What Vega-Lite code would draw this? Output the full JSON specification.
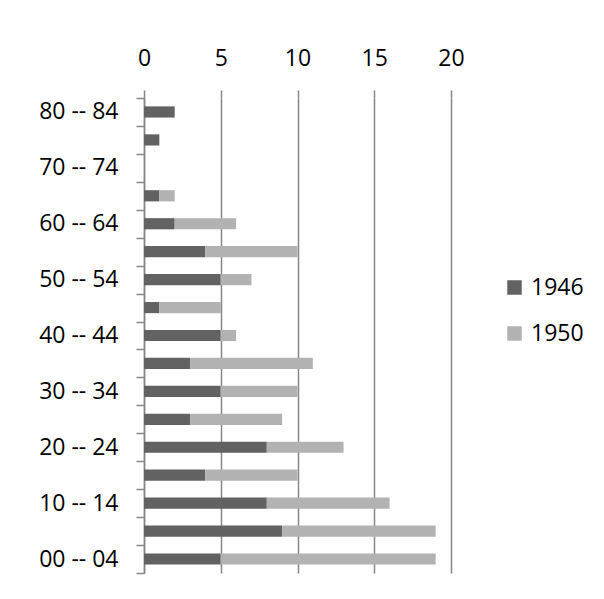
{
  "$schema": "https://vega.github.io/schema/vega-lite/v6.json",
  "width": 307,
  "height": 475,
  "autosize": {"type": "none"},
  "padding": {"left": 144, "top": 98, "right": 153, "bottom": 26},
  "background": "white",
  "config": {
    "view": {"stroke": null},
    "font": "Open Sans"
  },
  "data": {
    "values": [
      {"age": "00 -- 04", "year": "1946", "count": 5},
      {"age": "00 -- 04", "year": "1950", "count": 14},
      {"age": "05 -- 09", "year": "1946", "count": 9},
      {"age": "05 -- 09", "year": "1950", "count": 10},
      {"age": "10 -- 14", "year": "1946", "count": 8},
      {"age": "10 -- 14", "year": "1950", "count": 8},
      {"age": "15 -- 19", "year": "1946", "count": 4},
      {"age": "15 -- 19", "year": "1950", "count": 6},
      {"age": "20 -- 24", "year": "1946", "count": 8},
      {"age": "20 -- 24", "year": "1950", "count": 5},
      {"age": "25 -- 29", "year": "1946", "count": 3},
      {"age": "25 -- 29", "year": "1950", "count": 6},
      {"age": "30 -- 34", "year": "1946", "count": 5},
      {"age": "30 -- 34", "year": "1950", "count": 5},
      {"age": "35 -- 39", "year": "1946", "count": 3},
      {"age": "35 -- 39", "year": "1950", "count": 8},
      {"age": "40 -- 44", "year": "1946", "count": 5},
      {"age": "40 -- 44", "year": "1950", "count": 1},
      {"age": "45 -- 49", "year": "1946", "count": 1},
      {"age": "45 -- 49", "year": "1950", "count": 4},
      {"age": "50 -- 54", "year": "1946", "count": 5},
      {"age": "50 -- 54", "year": "1950", "count": 2},
      {"age": "55 -- 59", "year": "1946", "count": 4},
      {"age": "55 -- 59", "year": "1950", "count": 6},
      {"age": "60 -- 64", "year": "1946", "count": 2},
      {"age": "60 -- 64", "year": "1950", "count": 4},
      {"age": "65 -- 69", "year": "1946", "count": 1},
      {"age": "65 -- 69", "year": "1950", "count": 1},
      {"age": "70 -- 74", "year": "1946", "count": 0},
      {"age": "70 -- 74", "year": "1950", "count": 0},
      {"age": "75 -- 79", "year": "1946", "count": 1},
      {"age": "75 -- 79", "year": "1950", "count": 0},
      {"age": "80 -- 84", "year": "1946", "count": 2},
      {"age": "80 -- 84", "year": "1950", "count": 0}
    ]
  },
  "mark": {"type": "bar", "height": {"band": 0.4}},
  "encoding": {
    "y": {
      "field": "age",
      "type": "nominal",
      "sort": "descending",
      "scale": {"paddingInner": 0, "paddingOuter": 0},
      "axis": {
        "title": null,
        "domainColor": "#868686",
        "domainWidth": 1.5,
        "tickColor": "#868686",
        "tickWidth": 1.5,
        "tickSize": 8,
        "tickBand": "extent",
        "labelFontSize": 23,
        "labelColor": "#000000",
        "labelPadding": 18,
        "labelExpr": "substring(datum.value,1,2)=='0' ? datum.value : ''"
      }
    },
    "x": {
      "field": "count",
      "type": "quantitative",
      "stack": "zero",
      "scale": {"domain": [0, 20], "nice": false},
      "axis": {
        "orient": "top",
        "title": null,
        "values": [0, 5, 10, 15, 20],
        "domain": false,
        "grid": true,
        "gridColor": "#868686",
        "gridWidth": 1.5,
        "tickColor": "#868686",
        "tickWidth": 1.5,
        "tickSize": 8,
        "labelFlush": false,
        "labelFontSize": 23,
        "labelColor": "#000000",
        "labelPadding": 20
      }
    },
    "color": {
      "field": "year",
      "type": "nominal",
      "scale": {"domain": ["1946", "1950"], "range": ["#626262", "#b2b2b2"]},
      "legend": {
        "title": null,
        "orient": "none",
        "legendX": 359,
        "legendY": 178,
        "symbolType": "square",
        "symbolSize": 210,
        "symbolStrokeWidth": 0,
        "labelFontSize": 23,
        "labelColor": "#000000",
        "labelOffset": 5,
        "rowPadding": 22
      }
    },
    "order": {"field": "year", "sort": "ascending"}
  }
}
